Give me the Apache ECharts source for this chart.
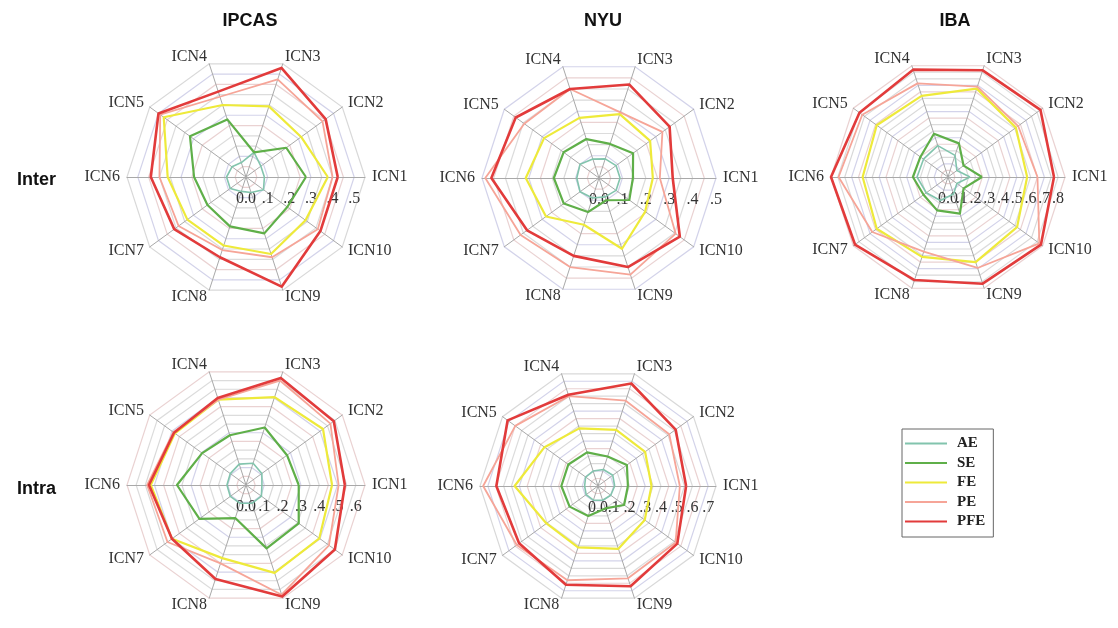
<!DOCTYPE html>
<html>
<head>
<meta charset="utf-8">
<script src="https://cdn.jsdelivr.net/npm/echarts@6/dist/echarts.min.js"></script>
<style>
  html, body { margin: 0; padding: 0; background: #ffffff; }
  #chart { width: 1118px; height: 628px; }
</style>
</head>
<body>
<div id="chart"></div>
<script>
// Axes of every radar, counter-clockwise from the right
const indicators = ['ICN1', 'ICN2', 'ICN3', 'ICN4', 'ICN5', 'ICN6', 'ICN7', 'ICN8', 'ICN9', 'ICN10'];
const measures = ['AE', 'SE', 'FE', 'PE', 'PFE'];

// IPCAS, inter-network
const ipcasInterAE  = [0.085, 0.085, 0.12, 0.07, 0.08, 0.09, 0.09, 0.07, 0.075, 0.10];
const ipcasInterSE  = [0.277, 0.23, 0.12, 0.28, 0.32, 0.24, 0.22, 0.24, 0.274, 0.236];
const ipcasInterFE  = [0.378, 0.315, 0.343, 0.35, 0.47, 0.362, 0.335, 0.333, 0.374, 0.34];
const ipcasInterPE  = [0.40, 0.437, 0.474, 0.39, 0.49, 0.40, 0.385, 0.355, 0.39, 0.41];
const ipcasInterPFE = [0.424, 0.455, 0.53, 0.415, 0.50, 0.44, 0.41, 0.39, 0.533, 0.425];

// NYU, inter-network
const nyuInterAE  = [0.09, 0.09, 0.086, 0.085, 0.10, 0.095, 0.10, 0.09, 0.085, 0.09];
const nyuInterSE  = [0.145, 0.18, 0.153, 0.175, 0.187, 0.193, 0.186, 0.153, 0.10, 0.16];
const nyuInterFE  = [0.23, 0.27, 0.287, 0.27, 0.29, 0.313, 0.28, 0.21, 0.318, 0.244];
const nyuInterPE  = [0.26, 0.335, 0.295, 0.40, 0.395, 0.486, 0.414, 0.40, 0.434, 0.405];
const nyuInterPFE = [0.315, 0.373, 0.42, 0.40, 0.44, 0.46, 0.38, 0.35, 0.40, 0.427];

// IBA, inter-network
const ibaInterAE  = [0.16, 0.08, 0.165, 0.24, 0.22, 0.225, 0.195, 0.18, 0.13, 0.08];
const ibaInterSE  = [0.247, 0.14, 0.257, 0.33, 0.248, 0.255, 0.22, 0.255, 0.28, 0.14];
const ibaInterFE  = [0.575, 0.61, 0.675, 0.62, 0.64, 0.62, 0.64, 0.61, 0.65, 0.62];
const ibaInterPE  = [0.65, 0.63, 0.69, 0.715, 0.77, 0.795, 0.68, 0.57, 0.695, 0.82];
const ibaInterPFE = [0.77, 0.83, 0.815, 0.82, 0.795, 0.85, 0.835, 0.787, 0.815, 0.835];

// IPCAS, intra-network
const ipcasIntraAE  = [0.087, 0.107, 0.125, 0.12, 0.106, 0.104, 0.106, 0.105, 0.105, 0.104];
const ipcasIntraSE  = [0.288, 0.277, 0.33, 0.286, 0.296, 0.377, 0.314, 0.19, 0.364, 0.356];
const ipcasIntraFE  = [0.47, 0.52, 0.505, 0.49, 0.48, 0.52, 0.50, 0.42, 0.505, 0.495];
const ipcasIntraPE  = [0.506, 0.57, 0.60, 0.49, 0.49, 0.54, 0.53, 0.45, 0.63, 0.56];
const ipcasIntraPFE = [0.54, 0.593, 0.615, 0.50, 0.486, 0.53, 0.50, 0.54, 0.64, 0.60];

// NYU, intra-network
const nyuIntraAE  = [0.106, 0.116, 0.11, 0.10, 0.097, 0.085, 0.093, 0.095, 0.095, 0.10];
const nyuIntraSE  = [0.19, 0.227, 0.197, 0.225, 0.233, 0.233, 0.223, 0.20, 0.15, 0.205];
const nyuIntraFE  = [0.34, 0.37, 0.375, 0.385, 0.42, 0.53, 0.405, 0.41, 0.42, 0.367];
const nyuIntraPE  = [0.52, 0.56, 0.57, 0.60, 0.65, 0.73, 0.638, 0.63, 0.617, 0.61];
const nyuIntraPFE = [0.56, 0.61, 0.685, 0.61, 0.71, 0.646, 0.62, 0.66, 0.67, 0.623];

// Outer ring value of each radar (rings every 0.05)
const panelMax = [0.55, 0.5, 0.85, 0.65, 0.75];
const ringStep = 0.05;

const colTitles = ['IPCAS', 'NYU', 'IBA'];
const rowTitles = ['Inter', 'Intra'];

const lineColors = { AE: '#82c4ad', SE: '#5faf49', FE: '#eeea3a', PE: '#f6a598', PFE: '#e23b3b' };
const lineWidths = { AE: 1.6, SE: 2.2, FE: 2.2, PE: 1.8, PFE: 2.6 };

const panels = [
  { center: [246, 177], radius: 119, values: [ipcasInterAE, ipcasInterSE, ipcasInterFE, ipcasInterPE, ipcasInterPFE] },
  { center: [599, 178], radius: 117, values: [nyuInterAE, nyuInterSE, nyuInterFE, nyuInterPE, nyuInterPFE] },
  { center: [948, 177], radius: 117, values: [ibaInterAE, ibaInterSE, ibaInterFE, ibaInterPE, ibaInterPFE] },
  { center: [246, 485], radius: 119, values: [ipcasIntraAE, ipcasIntraSE, ipcasIntraFE, ipcasIntraPE, ipcasIntraPFE] },
  { center: [598, 486], radius: 118, values: [nyuIntraAE, nyuIntraSE, nyuIntraFE, nyuIntraPE, nyuIntraPFE] }
];

// Tick text: "0.0", ".1", ".2", ... on whole tenths only
function tickText(v) {
  const k = Math.round(v * 100);
  if (k % 10 !== 0) return '';
  return k === 0 ? '0.0' : '.' + (k / 10);
}

const serif = 'Liberation Serif, Times New Roman, serif';

const radars = panels.map((p, i) => ({
  center: p.center,
  radius: p.radius,
  startAngle: 0,
  shape: 'polygon',
  splitNumber: Math.round(panelMax[i] / ringStep),
  nameGap: 7,
  axisName: { color: '#333', fontFamily: serif, fontSize: 16 },
  indicator: indicators.map((name, j) => ({
    name: name, min: 0, max: panelMax[i],
    // tick values are written once, under the ICN1 spoke
    axisLabel: j === 0
      ? { show: true, formatter: tickText, color: '#333', fontFamily: serif, fontSize: 16,
          margin: -22, verticalAlign: 'middle', showMaxLabel: true, showMinLabel: true }
      : { show: false }
  })),
  axisLine: { lineStyle: { color: '#a9a9a9', width: 1 } },
  splitLine: { lineStyle: { color: ['#dcdcdc', '#ead2d2', '#d3d3ea', '#d9d9d9'], width: 1.2 } },
  splitArea: { show: false }
}));

const series = panels.map((p, i) => ({
  type: 'radar',
  radarIndex: i,
  symbol: 'none',
  silent: true,
  data: measures.map((m, k) => ({
    name: m,
    value: p.values[k],
    lineStyle: { color: lineColors[m], width: lineWidths[m] },
    itemStyle: { color: lineColors[m] }
  }))
}));

const titles = colTitles.map((t, i) => ({
  text: t, left: [245, 598, 950][i], top: 7, textAlign: 'center',
  textStyle: { fontFamily: 'Liberation Sans, Arial, sans-serif', fontWeight: 'bold', fontSize: 18, color: '#111' }
})).concat(rowTitles.map((t, i) => ({
  text: t, left: 12, top: [166, 475][i],
  textStyle: { fontFamily: 'Liberation Sans, Arial, sans-serif', fontWeight: 'bold', fontSize: 18, color: '#111' }
})));

const chart = echarts.init(document.getElementById('chart'), null, { renderer: 'canvas' });
chart.setOption({
  animation: false,
  backgroundColor: '#ffffff',
  title: titles,
  legend: {
    data: measures,
    orient: 'vertical',
    left: 902,
    top: 429,
    width: 92,
    padding: [7, 8, 8, 3],
    itemGap: 4.5,
    itemWidth: 42,
    itemHeight: 2,
    icon: 'rect',
    borderColor: '#666',
    borderWidth: 1,
    selectedMode: false,
    textStyle: { fontFamily: serif, fontWeight: 'bold', fontSize: 15, color: '#222', lineHeight: 15, padding: [0, 0, 0, 5] },
    itemStyle: { borderWidth: 0 }
  },
  radar: radars,
  series: series
});
</script>
</body>
</html>
